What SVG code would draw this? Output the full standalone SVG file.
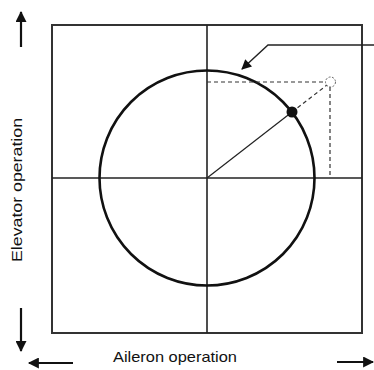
<svg xmlns="http://www.w3.org/2000/svg" width="374" height="370" viewBox="0 0 374 370">
<style>
.frame{fill:none;stroke:#333;stroke-width:2}
.axis{stroke:#222;stroke-width:1.6}
.dash{fill:none;stroke:#333;stroke-width:1.2;stroke-dasharray:4 3}
.lbl{font-family:"Liberation Sans",Arial,sans-serif;font-size:15px;fill:#111}
.arr{stroke:#111;stroke-width:2.2}
</style>
<defs>
<marker id="ah" viewBox="0 0 10 10" refX="9" refY="5" markerWidth="14" markerHeight="11" orient="auto" markerUnits="userSpaceOnUse">
<path d="M0,0 L10,5 L0,10 z" fill="#111"/>
</marker>
<marker id="ah2" viewBox="0 0 10 10" refX="9" refY="5" markerWidth="14" markerHeight="10" orient="auto" markerUnits="userSpaceOnUse">
<path d="M0,0 L10,5 L0,10 z" fill="#111"/>
</marker>
</defs>
<rect width="374" height="370" fill="#fff"/>
<g id="chart">
<rect class="frame" x="52" y="25" width="310" height="308"/>
<line class="axis" x1="207" y1="25" x2="207" y2="333"/>
<line class="axis" x1="52" y1="178" x2="362" y2="178"/>
<circle cx="207" cy="178" r="107.5" fill="none" stroke="#111" stroke-width="2.6"/>
<polyline class="dash" points="207,82 325,82"/>
<line class="dash" x1="330" y1="87" x2="330" y2="178"/>
<line class="dash" x1="292" y1="112" x2="327" y2="85"/>
<circle cx="330.5" cy="82" r="5" fill="#fff" stroke="#666" stroke-width="1" stroke-dasharray="2 1.5"/>
<line x1="207" y1="178" x2="292" y2="112" stroke="#222" stroke-width="1.2"/>
<circle cx="292" cy="112" r="5.5" fill="#111"/>
</g>
<g id="connectors">
<polyline points="374,45 268,45 242,69" fill="none" stroke="#222" stroke-width="1.4" marker-end="url(#ah2)"/>
<line class="arr" x1="21" y1="47" x2="21" y2="12" marker-end="url(#ah)"/>
<line class="arr" x1="21" y1="308" x2="21" y2="351" marker-end="url(#ah)"/>
<line class="arr" x1="73" y1="363" x2="29" y2="363" marker-end="url(#ah)"/>
<line class="arr" x1="337" y1="362" x2="373" y2="362" marker-end="url(#ah)"/>
</g>
<g id="labels">
<text class="lbl" x="175" y="362" text-anchor="middle" textLength="124" lengthAdjust="spacingAndGlyphs">Aileron operation</text>
<text class="lbl" transform="translate(22,190) rotate(-90)" text-anchor="middle" textLength="144" lengthAdjust="spacingAndGlyphs">Elevator operation</text>
</g>
</svg>
